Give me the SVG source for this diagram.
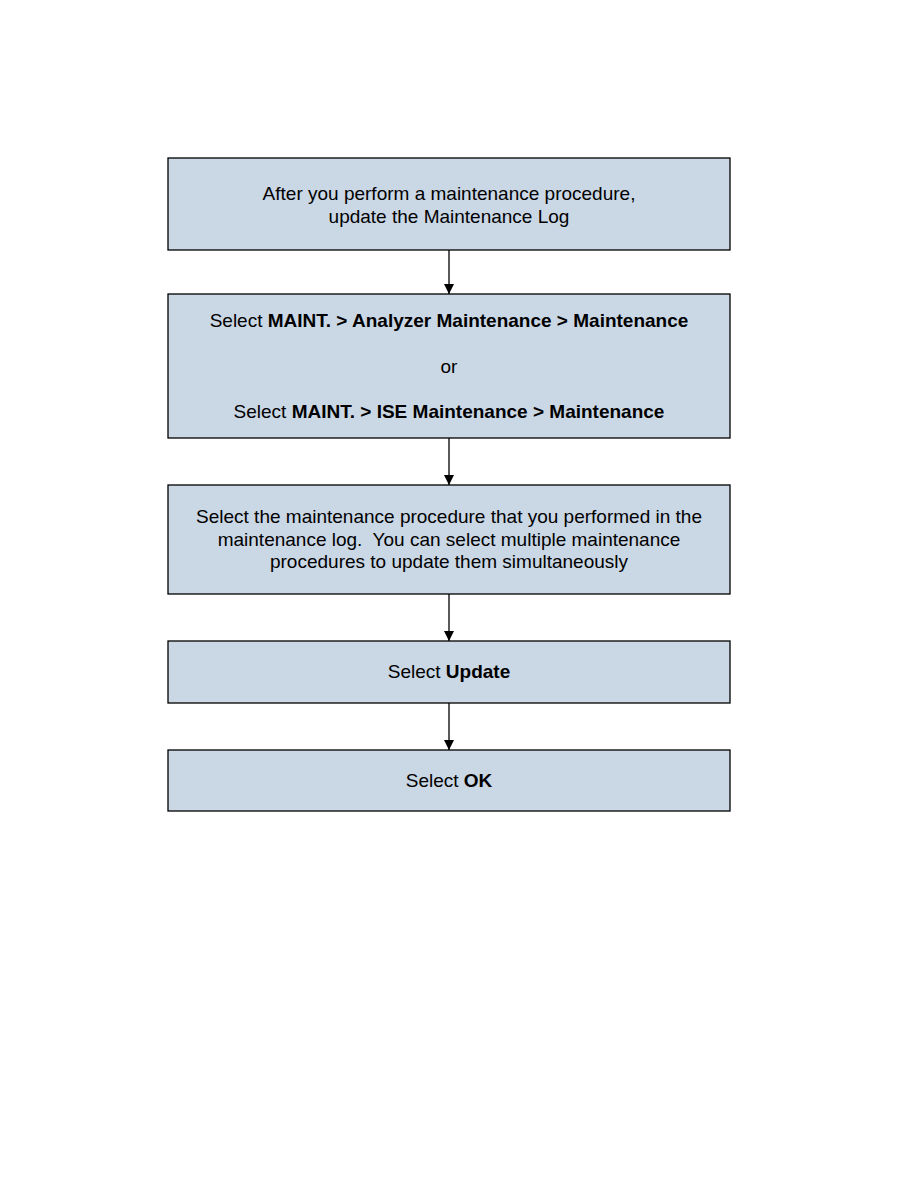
<svg xmlns="http://www.w3.org/2000/svg" width="918" height="1188" viewBox="0 0 918 1188">
<style>
.box{fill:#cad7e5;stroke:#000;stroke-width:1.3}
.t{font-family:"Liberation Sans",Arial,sans-serif;font-size:19px;fill:#000;text-anchor:middle}
.b{font-weight:bold}
.c{stroke:#000;stroke-width:1.3;fill:none;marker-end:url(#ah)}
</style>
<defs>
<marker id="ah" markerWidth="10" markerHeight="10" refX="10" refY="5" orient="auto" markerUnits="userSpaceOnUse" viewBox="0 0 10 10">
<path d="M0,0 L10,5 L0,10 Z" fill="#000"/>
</marker>
</defs>
<rect width="918" height="1188" fill="#fff"/>
<g id="n1"><rect class="box" x="168" y="158" width="562" height="92"/>
<text class="t" x="449" y="200">After you perform a maintenance procedure,</text>
<text class="t" x="449" y="223">update the Maintenance Log</text></g>
<g id="n2"><rect class="box" x="168" y="294" width="562" height="144"/>
<text class="t" x="449" y="327">Select <tspan class="b">MAINT. &gt; Analyzer Maintenance &gt; Maintenance</tspan></text>
<text class="t" x="449" y="373">or</text>
<text class="t" x="449" y="418">Select <tspan class="b">MAINT. &gt; ISE Maintenance &gt; Maintenance</tspan></text></g>
<g id="n3"><rect class="box" x="168" y="485" width="562" height="109"/>
<text class="t" x="449" y="523">Select the maintenance procedure that you performed in the</text>
<text class="t" x="449" y="546" xml:space="preserve">maintenance log.  You can select multiple maintenance</text>
<text class="t" x="449" y="568">procedures to update them simultaneously</text></g>
<g id="n4"><rect class="box" x="168" y="641" width="562" height="62"/>
<text class="t" x="449" y="678">Select <tspan class="b">Update</tspan></text></g>
<g id="n5"><rect class="box" x="168" y="750" width="562" height="61"/>
<text class="t" x="449" y="787">Select <tspan class="b">OK</tspan></text></g>
<g id="connectors">
<line class="c" x1="449" y1="250" x2="449" y2="294"/>
<line class="c" x1="449" y1="438" x2="449" y2="485"/>
<line class="c" x1="449" y1="594" x2="449" y2="641"/>
<line class="c" x1="449" y1="703" x2="449" y2="750"/>
</g>
</svg>
